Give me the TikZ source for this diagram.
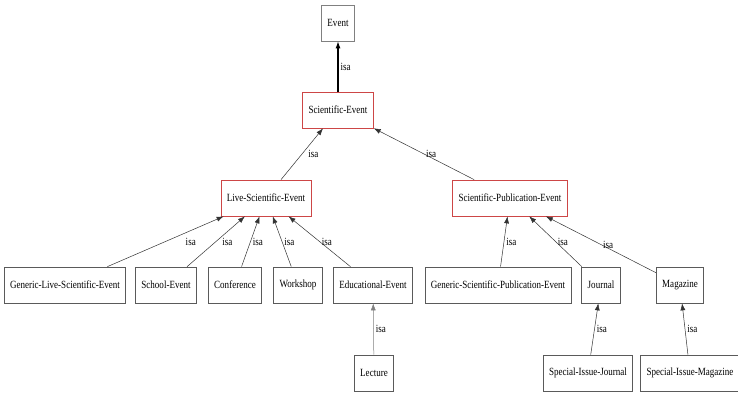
\documentclass[tikz,border=0pt]{standalone}
\usepackage{fontspec}
\setmainfont{Liberation Serif}[FakeStretch=0.82]
\usepackage{tikz}
\usetikzlibrary{arrows.meta}

\definecolor{boxred}{RGB}{205,70,70}
\definecolor{boxgray}{RGB}{90,90,90}

\tikzset{
  box/.style={draw=boxgray, line width=0.7pt, fill=white, minimum height=36pt,
    inner xsep=6pt, font=\fontsize{11}{13}\selectfont},
  redbox/.style={box, draw=boxred},
  isaedge/.style={draw=black!80, line width=0.5pt, -{Latex[length=7pt,width=5pt]}},
  isalabel/.style={midway, right, inner sep=2pt, font=\fontsize{11}{13}\selectfont}
}

\begin{document}
\begin{tikzpicture}[x=1pt,y=-1pt]
\useasboundingbox (0,0) rectangle (738,398);

% top levels
\node[box, draw=gray] (event) at (338,23) {Event};
\node[redbox] (scievent) at (338,110) {Scientific-Event};
\node[redbox] (livescievent) at (266,198) {Live-Scientific-Event};
\node[redbox] (scipubevent) at (510,198) {Scientific-Publication-Event};

% third level
\node[box] (genlive) at (65,285) {Generic-Live-Scientific-Event};
\node[box] (schoolevent) at (166,285) {School-Event};
\node[box] (conference) at (235,285) {Conference};
\node[box] (workshop) at (298,285) {Workshop};
\node[box] (eduevent) at (373,285) {Educational-Event};
\node[box] (genpub) at (498,285) {Generic-Scientific-Publication-Event};
\node[box] (journal) at (601,285) {Journal};
\node[box] (magazine) at (680,285) {Magazine};

% bottom
\node[box] (lecture) at (374,373) {Lecture};
\node[box] (specjournal) at (588,373) {Special-Issue-Journal};
\node[box] (specmagazine) at (690,373) {Special-Issue-Magazine};

% isa links
\draw[isaedge, draw=black, line width=1.1pt] (scievent) -- node[isalabel]{isa} (event);
\draw[isaedge] (livescievent) -- node[isalabel, xshift=4pt]{isa} (scievent);
\draw[isaedge] (scipubevent) -- node[isalabel]{isa} (scievent);
\draw[isaedge] (genlive) -- node[isalabel, xshift=18pt]{isa} (livescievent);
\draw[isaedge] (schoolevent) -- node[isalabel, xshift=4pt]{isa} (livescievent);
\draw[isaedge] (conference) -- node[isalabel]{isa} (livescievent);
\draw[isaedge] (workshop) -- node[isalabel]{isa} (livescievent);
\draw[isaedge] (eduevent) -- node[isalabel]{isa} (livescievent);
\draw[isaedge] (genpub) -- node[isalabel]{isa} (scipubevent);
\draw[isaedge] (journal) -- node[isalabel]{isa} (scipubevent);
\draw[isaedge] (magazine) -- node[isalabel]{isa} (scipubevent);
\draw[isaedge, draw=gray] (lecture) -- node[isalabel]{isa} (eduevent);
\draw[isaedge] (specjournal) -- node[isalabel]{isa} (journal);
\draw[isaedge] (specmagazine) -- node[isalabel]{isa} (magazine);
\end{tikzpicture}
\end{document}
